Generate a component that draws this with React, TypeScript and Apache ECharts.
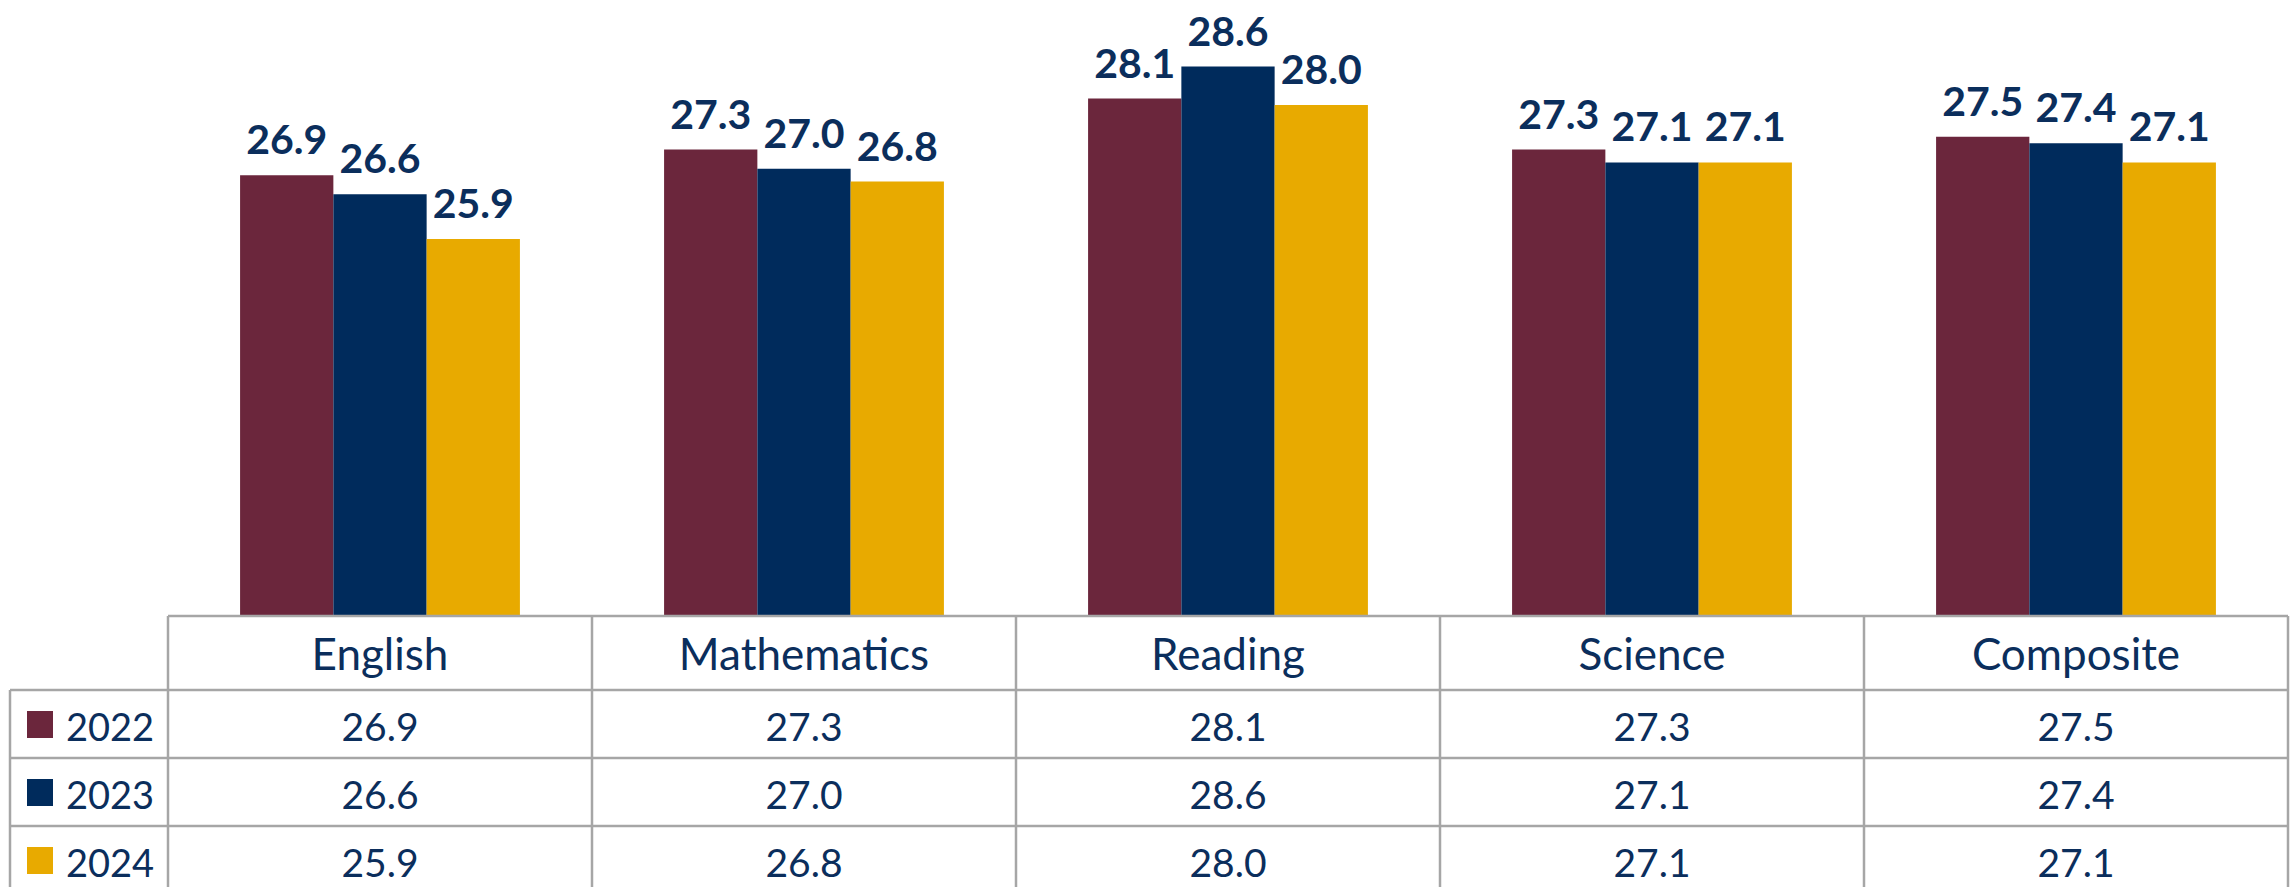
import React, { useEffect, useRef } from "react";
import * as echarts from "echarts";

const categories = ["English", "Mathematics", "Reading", "Science", "Composite"];
const years = ["2022", "2023", "2024"];
const values2022 = [26.9, 27.3, 28.1, 27.3, 27.5];
const values2023 = [26.6, 27.0, 28.6, 27.1, 27.4];
const values2024 = [25.9, 26.8, 28.0, 27.1, 27.1];
const seriesValues = [values2022, values2023, values2024];
const colors = ["#6B263C", "#002B5C", "#E8AA00"];

const W = 2292;
const H = 887;
const GRID_LEFT = 168;
const GRID_RIGHT = 4;
const TABLE_TOP = 616;
const HEADER_H = 74;
const ROW_H = 68;
const LABEL_LEFT = 10;
const TEXT_COLOR = "#0B2E5C";
const LINE_COLOR = "#A6A6A6";
const FONT = "Lato, 'Open Sans', sans-serif";

export default function App() {
  const ref = useRef<HTMLDivElement>(null);
  useEffect(() => {
    if (!ref.current) return;
    const chart = echarts.init(ref.current, undefined, { renderer: "svg" });
    const plotW = W - GRID_LEFT - GRID_RIGHT;
    const colW = plotW / categories.length;
    const graphics: any[] = [];
    const lineStyle = { stroke: LINE_COLOR, lineWidth: 2.5 };
    graphics.push({ type: "line", shape: { x1: GRID_LEFT, y1: TABLE_TOP, x2: W - GRID_RIGHT, y2: TABLE_TOP }, style: lineStyle, z: 10 });
    for (let r = 0; r < years.length; r++) {
      const y = TABLE_TOP + HEADER_H + r * ROW_H;
      graphics.push({ type: "line", shape: { x1: LABEL_LEFT, y1: y, x2: W - GRID_RIGHT, y2: y }, style: lineStyle, z: 10 });
    }
    graphics.push({ type: "line", shape: { x1: LABEL_LEFT, y1: TABLE_TOP + HEADER_H, x2: LABEL_LEFT, y2: H }, style: lineStyle, z: 10 });
    for (let c = 0; c <= categories.length; c++) {
      const x = GRID_LEFT + c * colW;
      graphics.push({ type: "line", shape: { x1: x, y1: TABLE_TOP, x2: x, y2: H }, style: lineStyle, z: 10 });
    }
    for (let r = 0; r < years.length; r++) {
      const cy = TABLE_TOP + HEADER_H + r * ROW_H + ROW_H / 2;
      graphics.push({ type: "rect", shape: { x: 27, y: cy - 13, width: 26, height: 27 }, style: { fill: colors[r] }, z: 10 });
      graphics.push({
        type: "text", x: 66, y: cy + 2,
        style: { text: years[r], fill: TEXT_COLOR, font: `38px ${FONT}`, textAlign: "left", textVerticalAlign: "middle" }, z: 10,
      });
      for (let c = 0; c < categories.length; c++) {
        graphics.push({
          type: "text", x: GRID_LEFT + c * colW + colW / 2, y: cy + 2,
          style: { text: seriesValues[r][c].toFixed(1), fill: TEXT_COLOR, font: `39px ${FONT}`, textAlign: "center", textVerticalAlign: "middle" }, z: 10,
        });
      }
    }
    chart.setOption({
      animation: false,
      grid: { left: GRID_LEFT, right: GRID_RIGHT, top: 41, bottom: H - TABLE_TOP },
      xAxis: {
        type: "category",
        data: categories,
        axisLine: { show: false },
        axisTick: { show: false },
        axisLabel: { margin: 0, fontSize: 44, fontFamily: FONT, color: TEXT_COLOR, lineHeight: HEADER_H, height: HEADER_H, verticalAlign: "top" },
      },
      yAxis: { type: "value", min: 20, max: 29, show: false, splitLine: { show: false } },
      series: years.map((y, i) => ({
        name: y,
        type: "bar",
        data: seriesValues[i],
        barGap: "0%",
        barCategoryGap: "34%",
        itemStyle: { color: colors[i] },
        label: {
          show: true, position: "top", distance: 16,
          formatter: (p: any) => p.value.toFixed(1),
          fontSize: 41, fontWeight: "bold", fontFamily: FONT, color: TEXT_COLOR,
        },
      })),
      graphic: graphics,
    });
    return () => chart.dispose();
  }, []);
  return <div ref={ref} style={{ position: "fixed", left: 0, top: 0, width: W, height: H, background: "#fff" }} />;
}
